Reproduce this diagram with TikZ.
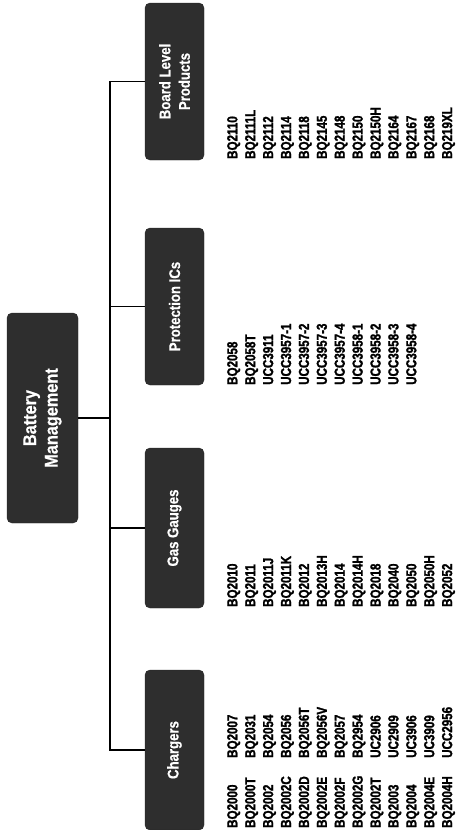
\documentclass[tikz,border=0pt]{standalone}
\usepackage{fontspec}
\setmainfont{Liberation Sans}
\newfontfamily\rootfont[FakeStretch=0.88,FakeBold=0.6]{Liberation Sans}
\newfontfamily\boxfont[FakeStretch=0.85,FakeBold=0.6]{Liberation Sans}
\newfontfamily\partfont[FakeStretch=0.8,FakeBold=1.5]{Liberation Sans}
\begin{document}
\begin{tikzpicture}[x=1pt,y=1pt,
  catbox/.style={draw=black!85, fill=black!82, rounded corners=5pt, rotate=90,
    text=white, align=center, inner sep=0pt,
    font=\boxfont\bfseries\fontsize{15.5}{19.5}\selectfont},
  partlist/.style={rotate=90, anchor=north west, align=left, inner sep=0pt,
    font=\partfont\bfseries\fontsize{14.5}{17.9}\selectfont},
  link/.style={line width=1.3pt, black}]
\useasboundingbox (0,0) rectangle (456,-830);

% top of the tree
\node[catbox, minimum width=210, minimum height=71,
  font=\rootfont\bfseries\fontsize{18.5}{21.5}\selectfont]
  (root) at (42.5,-418) {Battery\\Management};

% categories
\node[catbox, minimum width=157, minimum height=59] (board) at (174.5,-81.5) {Board Level\\Products};
\node[catbox, minimum width=157, minimum height=59] (prot)  at (174.5,-306.5) {Protection ICs};
\node[catbox, minimum width=160, minimum height=59] (gas)   at (174.5,-528) {Gas Gauges};
\node[catbox, minimum width=160, minimum height=59] (chg)   at (174.5,-750) {Chargers};

% connectors
\coordinate (bus) at (110,0);
\draw[link] (root.south) -- (root.south -| bus);
\draw[link] (board.north) -- (board.north -| bus) |- (chg.north);
\draw[link] (prot.north) -- (prot.north -| bus);
\draw[link] (gas.north) -- (gas.north -| bus);

% part numbers
\node[partlist] (chgA) at (227,-828) {BQ2000\\BQ2000T\\BQ2002\\BQ2002C\\BQ2002D\\BQ2002E\\BQ2002F\\BQ2002G\\BQ2002T\\BQ2003\\BQ2004\\BQ2004E\\BQ2004H};
\node[partlist] (chgB) at (227,-758) {BQ2007\\BQ2031\\BQ2054\\BQ2056\\BQ2056T\\BQ2056V\\BQ2057\\BQ2954\\UC2906\\UC2909\\UC3906\\UC3909\\UCC2956};
\node[partlist] (gasL) at (227,-607) {BQ2010\\BQ2011\\BQ2011J\\BQ2011K\\BQ2012\\BQ2013H\\BQ2014\\BQ2014H\\BQ2018\\BQ2040\\BQ2050\\BQ2050H\\BQ2052};
\node[partlist] (protL) at (227,-385) {BQ2058\\BQ2058T\\UCC3911\\UCC3957-1\\UCC3957-2\\UCC3957-3\\UCC3957-4\\UCC3958-1\\UCC3958-2\\UCC3958-3\\UCC3958-4};
\node[partlist] (boardL) at (227,-159) {BQ2110\\BQ2111L\\BQ2112\\BQ2114\\BQ2118\\BQ2145\\BQ2148\\BQ2150\\BQ2150H\\BQ2164\\BQ2167\\BQ2168\\BQ219XL};
\end{tikzpicture}
\end{document}
